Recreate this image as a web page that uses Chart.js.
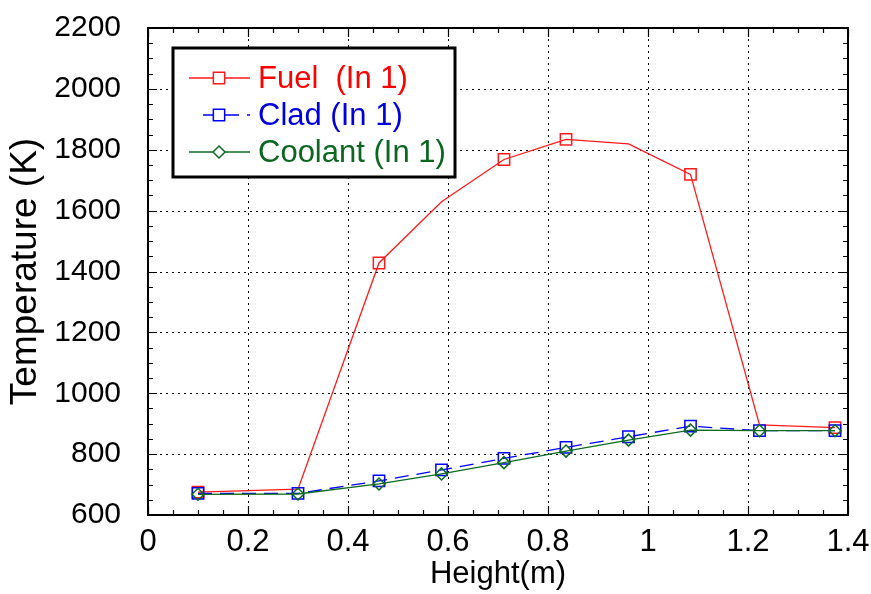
<!DOCTYPE html>
<html lang="en">
<head>
<meta charset="UTF-8">
<title>Temperature x Height</title>
<script src="https://cdn.jsdelivr.net/npm/chart.js"></script>
<style>
    html, body { margin: 0; padding: 0; background: #fff; }
</style>
</head>
<body>
<canvas id="grafico" width="871" height="594"></canvas>

<script>
    // dados
    const alturas = [0.1, 0.3, 0.462, 0.587, 0.712, 0.836, 0.961, 1.085, 1.223, 1.374];
    const tempFuel = [675, 685, 1428, 1629, 1768, 1834, 1819, 1719, 896, 887];
    const tempClad = [671, 671, 712, 748, 786, 822, 857, 892, 877, 877];
    const tempCoolant = [668, 669, 702, 735, 772, 810, 846, 879, 877, 877];
    const marcadorFuel = [1, 0, 1, 0, 1, 1, 0, 1, 0, 1]; // só alguns pontos têm marcador
    const ticksX = [0, 0.2, 0.4, 0.6, 0.8, 1, 1.2, 1.4];
    const ticksY = [600, 800, 1000, 1200, 1400, 1600, 1800, 2000, 2200];
    const nomes = ['Fuel  (In 1)', 'Clad (In 1)', 'Coolant (In 1)'];

    const FONTE = "'Liberation Sans', Arial, sans-serif";
    const VERMELHO = '#ff1a1a';
    const AZUL = '#0000ff';
    const VERDE = '#0d6b1f';
    const corTexto = ['#ff0000', '#0000dd', '#0b6620'];

    function pontos(valores) {
        return alturas.map((x, i) => ({ x: x, y: valores[i] }));
    }

    // grade pontilhada (antes das linhas)
    const grade = {
        id: 'grade',
        beforeDatasetsDraw(chart) {
            const ctx = chart.ctx;
            const area = chart.chartArea;
            ctx.save();
            ctx.strokeStyle = '#000';
            ctx.lineWidth = 1;
            ctx.setLineDash([2, 4]);
            ctx.beginPath();
            ticksX.forEach(function (v) {
                const px = Math.round(chart.scales.x.getPixelForValue(v)) + 0.5;
                ctx.moveTo(px, area.bottom);
                ctx.lineTo(px, area.top);
            });
            ticksY.forEach(function (v) {
                const py = Math.round(chart.scales.y.getPixelForValue(v)) + 0.5;
                ctx.moveTo(area.left, py);
                ctx.lineTo(area.right, py);
            });
            ctx.stroke();
            ctx.restore();
        }
    };

    // moldura, ticks menores e legenda
    const moldura = {
        id: 'moldura',
        afterDraw(chart) {
            const ctx = chart.ctx;
            const area = chart.chartArea;
            const sx = chart.scales.x;
            const sy = chart.scales.y;
            ctx.save();
            ctx.strokeStyle = '#000';
            ctx.lineWidth = 1.2;
            ctx.beginPath();
            for (let v = 0; v <= 1.4001; v += 0.05) {
                const px = Math.round(sx.getPixelForValue(v)) + 0.5;
                const maior = Math.abs(v / 0.2 - Math.round(v / 0.2)) < 1e-6;
                const t = maior ? 9 : 5;
                ctx.moveTo(px, area.bottom); ctx.lineTo(px, area.bottom - t);
                ctx.moveTo(px, area.top); ctx.lineTo(px, area.top + t);
            }
            for (let v = 600; v <= 2200; v += 50) {
                const py = Math.round(sy.getPixelForValue(v)) + 0.5;
                const t = v % 200 == 0 ? 9 : 5;
                ctx.moveTo(area.left, py); ctx.lineTo(area.left + t, py);
                ctx.moveTo(area.right, py); ctx.lineTo(area.right - t, py);
            }
            ctx.stroke();
            ctx.lineWidth = 2;
            ctx.strokeRect(area.left, area.top, area.right - area.left, area.bottom - area.top);

            // legenda
            const lx = area.left + 25;
            const ly = area.top + 20;
            const lw = 282;
            const lh = 129;
            ctx.fillStyle = '#fff';
            ctx.fillRect(lx, ly, lw, lh);
            ctx.lineWidth = 3;
            ctx.strokeStyle = '#000';
            ctx.strokeRect(lx, ly, lw, lh);

            chart.data.datasets.forEach(function (ds, i) {
                const y = ly + 30 + i * 37;
                ctx.save();
                ctx.strokeStyle = ds.borderColor;
                ctx.lineWidth = ds.borderWidth;
                ctx.setLineDash(ds.borderDash || []);
                ctx.beginPath();
                ctx.moveTo(lx + (ds.borderDash ? 30 : 16), y);
                ctx.lineTo(lx + 77, y);
                ctx.stroke();
                ctx.setLineDash([]);
                ctx.fillStyle = '#fff';
                ctx.strokeStyle = ds.pointBorderColor;
                ctx.lineWidth = 1.5;
                Chart.helpers.drawPoint(ctx, {
                    pointStyle: ds.pointStyle,
                    radius: ds.pointStyle == 'rectRot' ? 6 : 8,
                    borderWidth: 1.5
                }, lx + 46, y);
                ctx.restore();
                ctx.fillStyle = corTexto[i];
                ctx.font = '31px ' + FONTE;
                ctx.textBaseline = 'middle';
                ctx.fillText(ds.label, lx + 85, y + 1);
            });
            ctx.restore();
        }
    };

    const grafico = new Chart(document.getElementById('grafico'), {
        type: 'line',
        data: {
            datasets: [
                {
                    label: nomes[0],
                    data: pontos(tempFuel),
                    borderColor: VERMELHO,
                    pointBorderColor: VERMELHO,
                    borderWidth: 1.3,
                    pointStyle: 'rect',
                    pointRadius: marcadorFuel.map(m => m ? 8 : 0),
                    pointBorderWidth: 1.5,
                    pointBackgroundColor: 'rgba(0,0,0,0)',
                    order: 2
                },
                {
                    label: nomes[1],
                    data: pontos(tempClad),
                    borderColor: AZUL,
                    pointBorderColor: AZUL,
                    borderWidth: 1.3,
                    borderDash: [14, 8],
                    pointStyle: 'rect',
                    pointRadius: 8,
                    pointBorderWidth: 1.5,
                    pointBackgroundColor: 'rgba(0,0,0,0)',
                    order: 1
                },
                {
                    label: nomes[2],
                    data: pontos(tempCoolant),
                    borderColor: VERDE,
                    pointBorderColor: VERDE,
                    borderWidth: 1.3,
                    pointStyle: 'rectRot',
                    pointRadius: 6,
                    pointBorderWidth: 1.5,
                    pointBackgroundColor: 'rgba(0,0,0,0)',
                    order: 0
                }
            ]
        },
        options: {
            responsive: false,
            animation: false,
            layout: { padding: { top: 28, right: 23, left: 0, bottom: 0 } },
            plugins: {
                legend: { display: false },
                tooltip: { enabled: false }
            },
            scales: {
                x: {
                    type: 'linear',
                    min: 0,
                    max: 1.4,
                    afterBuildTicks: function (scale) {
                        scale.ticks = ticksX.map(v => ({ value: v }));
                    },
                    afterFit: function (scale) {
                        scale.height = 79;
                        scale.paddingLeft = 0;
                        scale.paddingRight = 0;
                    },
                    ticks: {
                        color: '#000',
                        font: { family: FONTE, size: 31 },
                        padding: 1,
                        maxRotation: 0,
                        callback: v => String(Math.round(v * 10) / 10)
                    },
                    grid: { display: false },
                    border: { display: false },
                    title: {
                        display: true,
                        text: 'Height(m)',
                        color: '#000',
                        font: { family: FONTE, size: 31 },
                        padding: { top: 0, bottom: 1 }
                    }
                },
                y: {
                    min: 600,
                    max: 2200,
                    afterBuildTicks: function (scale) {
                        scale.ticks = ticksY.map(v => ({ value: v }));
                    },
                    afterFit: function (scale) {
                        scale.width = 148;
                        scale.paddingTop = 0;
                        scale.paddingBottom = 0;
                    },
                    ticks: {
                        color: '#000',
                        font: { family: FONTE, size: 30 },
                        padding: 19,
                        callback: v => String(v)
                    },
                    grid: { display: false },
                    border: { display: false },
                    title: {
                        display: true,
                        text: 'Temperature (K)',
                        color: '#000',
                        font: { family: FONTE, size: 37 },
                        padding: { top: 4, bottom: 0 }
                    }
                }
            }
        },
        plugins: [grade, moldura]
    });
</script>
</body>
</html>
